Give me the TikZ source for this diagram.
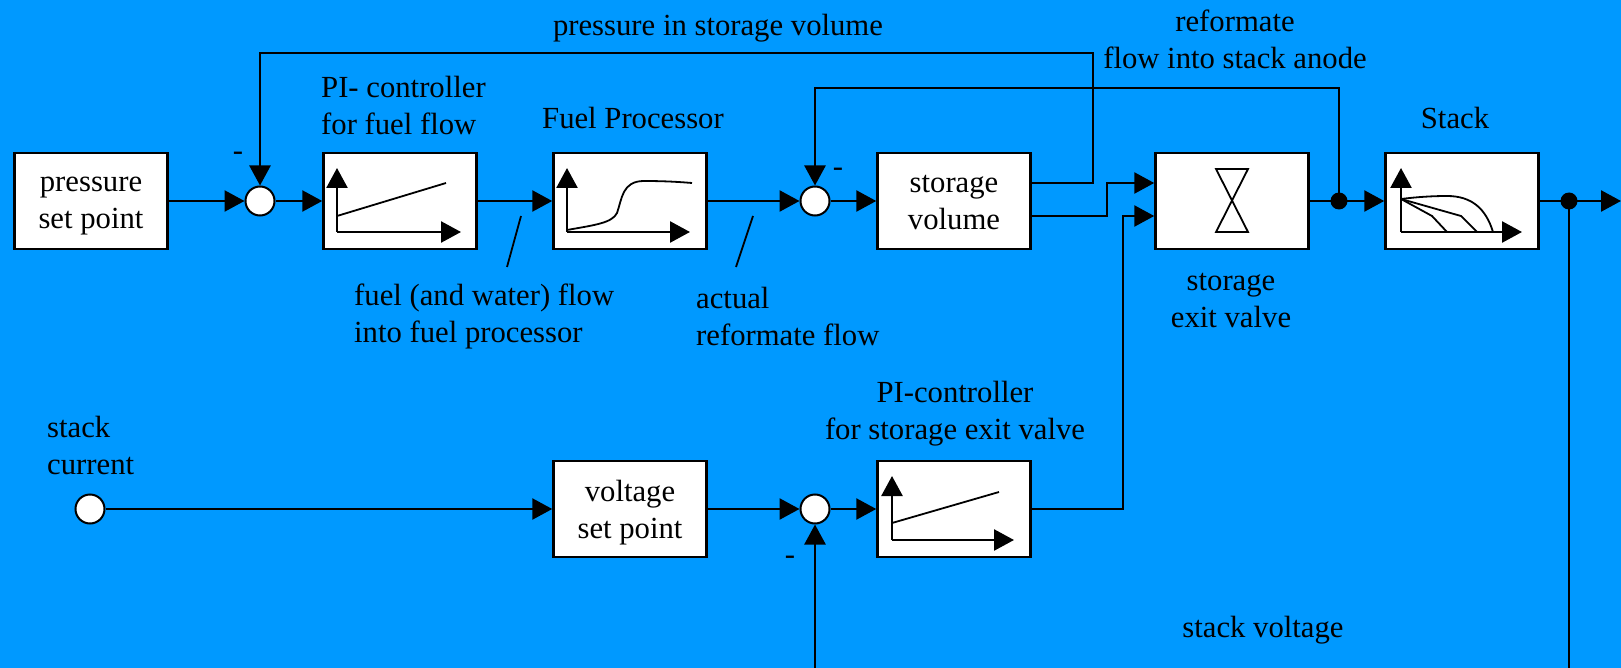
\documentclass[tikz,border=0pt]{standalone}
\usepackage{fontspec}
\setmainfont{Liberation Serif}
\usetikzlibrary{arrows.meta}
\definecolor{bgblue}{RGB}{0,153,255}

\begin{document}
\begin{tikzpicture}[
    x=1pt, y=-1pt,
    font=\fontsize{30.7}{37}\selectfont,
    box/.style={rectangle, draw, fill=white, line width=2.5pt, minimum width=153pt, minimum height=96pt, inner sep=0pt},
    boxtxt/.style={inner sep=0pt, align=center, yshift=-5pt},
    sumpt/.style={circle, draw, fill=white, line width=2pt, minimum size=29pt, inner sep=0pt},
    dot/.style={circle, fill=black, minimum size=17pt, inner sep=0pt},
    lbl/.style={inner sep=0pt},
    wire/.style={line width=2.5pt},
    arrow/.style={-{Triangle[length=20pt, width=21pt]}, line width=2.5pt},
    curve/.style={line width=1.8pt}
]
\useasboundingbox (0,0) rectangle (1621,668);
\fill[bgblue] (0,0) rectangle (1621,668);

% upper loop
\node[box, label={[boxtxt]center:{pressure\\set point}}] (psp) at (91,201) {};
\node[sumpt] (sum1) at (260,201) {};
\node[box] (pifuel) at (400,201) {};
\node[box] (fuelproc) at (630,201) {};
\node[sumpt] (sum2) at (815,201) {};
\node[box, label={[boxtxt, yshift=3pt]center:{storage\\volume}}] (storage) at (954,201) {};
\node[box] (valve) at (1232,201) {};
\node[dot] (jct1) at (1339,201) {};
\node[box] (stack) at (1462,201) {};
\node[dot] (jct2) at (1569,201) {};
\coordinate (out) at (1621,201);

% lower loop
\node[sumpt] (current) at (90,509) {};
\node[box, label={[boxtxt, yshift=1pt]center:{voltage\\set point}}] (vsp) at (630,509) {};
\node[sumpt] (sum3) at (815,509) {};
\node[box] (pivalve) at (954,509) {};

% bend points
\coordinate (fb1) at (1093,53);
\coordinate (fb2) at (815,88);
\coordinate (vin) at (1123,216);
\coordinate (vbot) at (815,668);
\coordinate (ubot) at (1569,668);

% labels
\node[lbl] (lpress) at (718,28) {pressure in storage volume};
\node[lbl, align=center] (lanode) at (1235,39) {reformate\\flow into stack anode};
\node[lbl, align=left, anchor=west] (lpifuel) at (321,106) {PI- controller\\for fuel flow};
\node[lbl] (lfp) at (633,118) {Fuel Processor};
\node[lbl] (lstack) at (1455,118) {Stack};
\node[lbl, align=left, anchor=west] (lfuel) at (354,316) {fuel (and water) flow\\into fuel processor};
\node[lbl, align=left, anchor=west] (lactual) at (696,316) {actual\\reformate flow};
\node[lbl, align=center] (lvalve) at (1231,301) {storage\\exit valve};
\node[lbl, align=left, anchor=west] (lcur) at (47,445) {stack\\current};
\node[lbl, align=center] (lpivalve) at (955,414) {PI-controller\\for storage exit valve};
\node[lbl] (lvolt) at (1263,630) {stack voltage};
\node[lbl] (m1) at (238,156) {-};
\node[lbl] (m2) at (838,172) {-};
\node[lbl] (m3) at (790,560) {-};

% graphs inside the boxes
\begin{scope}[shift={(pifuel.center)}]
  \draw[arrow] (-63,31) -- (-63,-33);
  \draw[arrow] (-63,31) -- (61,31);
  \draw[curve] (-63,15) -- (46,-18);
\end{scope}
\begin{scope}[shift={(pivalve.center)}]
  \draw[arrow] (-62,31) -- (-62,-33);
  \draw[arrow] (-62,31) -- (60,31);
  \draw[curve] (-62,14) -- (45,-17);
\end{scope}
\begin{scope}[shift={(fuelproc.center)}]
  \draw[arrow] (-63,31) -- (-63,-33);
  \draw[arrow] (-63,31) -- (60,31);
  \draw[curve] (-63,29) .. controls (-35,24) and (-18,22) .. (-13,12)
    .. controls (-8,-2) and (-8,-20) .. (14,-20)
    .. controls (35,-20) and (50,-19) .. (62,-18);
\end{scope}
\begin{scope}[shift={(stack.center)}]
  \draw[arrow] (-61,31) -- (-61,-33);
  \draw[arrow] (-61,31) -- (60,31);
  \draw[curve] (-61,-2) .. controls (-45,-4) and (-30,-5) .. (-15,-5)
    .. controls (10,-5) and (24,8) .. (31,31);
  \draw[curve] (-61,-2) -- (-1,15) -- (15,31);
  \draw[curve] (-61,-2) -- (-30,15) -- (-15,31);
\end{scope}
\begin{scope}[shift={(valve.center)}]
  \draw[curve] (-16,-32) -- (16,-32) -- (-16,31) -- (16,31) -- cycle;
\end{scope}

% connectors
\draw[arrow] (psp) -- (sum1);
\draw[arrow] (sum1) -- (pifuel);
\draw[arrow] (pifuel) -- (fuelproc);
\draw[arrow] (fuelproc) -- (sum2);
\draw[arrow] (sum2) -- (storage);
\draw[arrow] ([yshift=18pt]storage.east) -| (fb1) -| (sum1.north);
\draw[arrow] ([yshift=-15pt]storage.east) -- ++(75,0) |- ([yshift=18pt]valve.west);
\draw[arrow] (pivalve.east) -| (vin) -- ([yshift=-15pt]valve.west);
\draw[arrow] (valve) -- (stack);
\draw[arrow] (jct1.center) |- (fb2) -- (sum2.north);
\draw[arrow] (stack) -- (out);
\draw[wire] (jct2.center) -- (ubot);
\draw[arrow] (current) -- (vsp);
\draw[arrow] (vsp) -- (sum3);
\draw[arrow] (sum3) -- (pivalve);
\draw[arrow] (vbot) -- (sum3.south);

% pointers to the flow labels
\draw[curve] (521,216) -- (507,267);
\draw[curve] (753,216) -- (736,267);
\end{tikzpicture}
\end{document}
